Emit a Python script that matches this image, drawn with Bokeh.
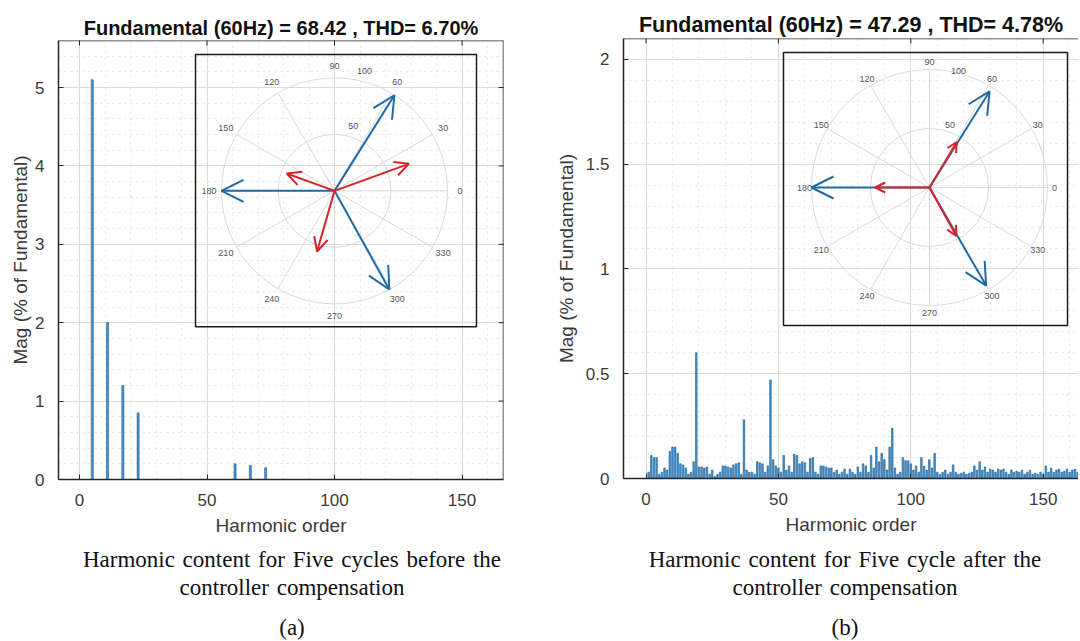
import numpy as np
from bokeh.plotting import figure
from bokeh.models import Range1d, FixedTicker, Arrow, OpenHead, ColumnDataSource, Div, Span
from bokeh.layouts import row, column
from bokeh.embed import file_html
from bokeh.resources import INLINE
from bokeh.core.properties import value

# ---------------- data ----------------
before_order = [5, 11, 17, 23, 61, 67, 73]
before_mag = [5.10, 2.00, 1.20, 0.85, 0.20, 0.18, 0.15]

after_order = list(range(0, 166))
after_mag = [
    0.00, 0.03, 0.11, 0.10, 0.10, 0.02, 0.03, 0.05, 0.04, 0.13,
    0.15, 0.15, 0.12, 0.07, 0.065, 0.05, 0.02, 0.03, 0.08, 0.60,
    0.055, 0.055, 0.05, 0.055, 0.02, 0.04, 0.01, 0.02, 0.03, 0.06,
    0.06, 0.055, 0.05, 0.065, 0.07, 0.075, 0.02, 0.28, 0.04, 0.03,
    0.03, 0.02, 0.08, 0.075, 0.07, 0.03, 0.06, 0.47, 0.09, 0.06,
    0.05, 0.03, 0.11, 0.04, 0.06, 0.03, 0.115, 0.11, 0.07, 0.08,
    0.075, 0.03, 0.095, 0.10, 0.03, 0.02, 0.06, 0.06, 0.055, 0.05,
    0.05, 0.03, 0.04, 0.02, 0.03, 0.045, 0.02, 0.045, 0.03, 0.02,
    0.055, 0.03, 0.07, 0.06, 0.03, 0.11, 0.05, 0.15, 0.08, 0.12,
    0.09, 0.04, 0.15, 0.24, 0.05, 0.02, 0.03, 0.10, 0.085, 0.085,
    0.07, 0.04, 0.06, 0.03, 0.10, 0.06, 0.04, 0.09, 0.05, 0.12,
    0.03, 0.02, 0.03, 0.04, 0.02, 0.03, 0.065, 0.03, 0.02, 0.025,
    0.03, 0.02, 0.025, 0.03, 0.06, 0.04, 0.08, 0.04, 0.055, 0.03,
    0.045, 0.04, 0.03, 0.045, 0.04, 0.045, 0.03, 0.02, 0.04, 0.03,
    0.035, 0.03, 0.04, 0.02, 0.03, 0.04, 0.02, 0.025, 0.02, 0.03,
    0.02, 0.06, 0.03, 0.05, 0.03, 0.04, 0.045, 0.03, 0.035, 0.045,
    0.03, 0.04, 0.045, 0.03, 0.04, 0.03,
]

x_ticks = [0, 50, 100, 150]
before_y_ticks = [0, 1, 2, 3, 4, 5]
after_y_ticks = [0, 0.5, 1, 1.5, 2]
before_y_max = 5.6
after_y_max = 2.1

before_title = "Fundamental (60Hz) = 68.42 , THD= 6.70%"
after_title = "Fundamental (60Hz) = 47.29 , THD= 4.78%"
x_label = "Harmonic order"
y_label = "Mag (% of Fundamental)"
before_caption = ["Harmonic content for Five cycles before the", "controller compensation", "(a)"]
after_caption = ["Harmonic content for Five cycle after the", "controller compensation", "(b)"]

# polar (compass) insets
polar_angles = [0, 30, 60, 90, 120, 150, 180, 210, 240, 270, 300, 330]
polar_rings = [50, 100]
polar_ring_labels = ["50", "100"]

before_blue_mag = [100, 100, 100]
before_blue_ang = [58, 180, 299]
before_red_mag = [70, 45, 56]
before_red_ang = [20, 160, 254]

after_blue_mag = [96, 100, 96]
after_blue_ang = [58, 180, 300]
after_red_mag = [45, 46, 47]
after_red_ang = [59, 180, 299]

# ---------------- styling / layout ----------------
BLUE = "#1f6aa5"
RED = "#d8232a"
AX = "#262626"
LEFT_W = 525
TOTAL_W = 1078
FIG_H = 538

GEOM = {
    "a": dict(fig_left=0, fig_w=LEFT_W, frame=(58, 503, 40, 480), x0_px=79.0, x_ppu=2.55,
              polar_c=(334.0, 190.7), polar_k=1.13, box=(195, 476, 54, 327), lab_r=111,
              ring_lab=[(60, 74), (110, 76)], heads=(22, 14), title_size="20px",
              cap_center=292, right_border=True, bar_w=0.8, ylab_standoff=1),
    "b": dict(fig_left=LEFT_W, fig_w=TOTAL_W - LEFT_W, frame=(623, 1078, 38, 478), x0_px=645.5,
              x_ppu=2.648, polar_c=(929.0, 187.0), polar_k=1.18, box=(783, 1067, 52, 325), lab_r=106,
              ring_lab=[(56, 72), (102, 76)], heads=(22, 10), title_size="21.5px",
              cap_center=845, right_border=False, bar_w=0.6, ylab_standoff=6),
}


def build_panel(g, order, mag, y_ticks, y_max, y_minor_step, title,
                blue_mag, blue_ang, red_mag, red_ang):
    fl, fr, ft, fb = g["frame"]
    bl = fl - g["fig_left"]
    br = g["fig_left"] + g["fig_w"] - fr
    bt = ft
    bb = FIG_H - fb
    x_start = (fl - g["x0_px"]) / g["x_ppu"]
    x_end = (fr - g["x0_px"]) / g["x_ppu"]

    cx, cy = g["polar_c"]
    k = g["polar_k"]
    p = figure(width=g["fig_w"], height=FIG_H, output_backend="svg", toolbar_location=None,
               x_range=Range1d(x_start, x_end), y_range=Range1d(0, y_max),
               min_border_left=bl, min_border_right=br, min_border_top=bt, min_border_bottom=bb,
               background_fill_color="white", border_fill_color="white")
    p.outline_line_color = None
    p.extra_x_ranges = {"px": Range1d((fl - cx) / k, (fr - cx) / k)}
    p.extra_y_ranges = {"py": Range1d((cy - fb) / k, (cy - ft) / k)}

    # title
    p.title.text = title
    p.title.text_font = "Liberation Sans"
    p.title.text_font_size = g["title_size"]
    p.title.text_font_style = "bold"
    p.title.text_color = "#111111"
    p.title.align = "center"
    p.title.standoff = 4

    # tickers and grids
    xt = FixedTicker(ticks=x_ticks, minor_ticks=[float(v) for v in np.arange(-10, 171, 10)])
    yt = FixedTicker(ticks=y_ticks,
                     minor_ticks=[round(float(v), 3) for v in np.arange(0, y_max + 1e-9, y_minor_step)])
    p.xaxis.ticker = xt
    p.yaxis.ticker = yt
    p.xgrid.ticker = xt
    p.ygrid.ticker = yt
    for gr in (p.xgrid, p.ygrid):
        gr.grid_line_color = "#dcdcdc"
        gr.grid_line_width = 1
        gr.minor_grid_line_color = "#e6e6e6"
        gr.minor_grid_line_dash = "dotted"

    for ax in (p.xaxis, p.yaxis):
        ax.axis_line_color = AX
        ax.axis_line_width = 1.5
        ax.major_tick_in = 5
        ax.major_tick_out = 0
        ax.major_tick_line_color = AX
        ax.minor_tick_line_color = None
        ax.major_label_text_font = "Liberation Sans"
        ax.major_label_text_font_size = "17px"
        ax.major_label_text_color = "#3a3a3a"
        ax.axis_label_text_font = "Liberation Sans"
        ax.axis_label_text_font_size = "19px"
        ax.axis_label_text_font_style = "normal"
        ax.axis_label_text_color = "#3a3a3a"
    p.xaxis.axis_label = x_label
    p.yaxis.axis_label = y_label
    p.xaxis.major_label_standoff = 10
    p.xaxis.axis_label_standoff = 6
    p.yaxis.major_label_standoff = 10
    p.yaxis.axis_label_standoff = g["ylab_standoff"]

    # box: top (and right) borders with inward ticks
    p.add_layout(Span(location=y_max, dimension="width", line_color=AX, line_width=1.5))
    p.scatter(x=x_ticks, y=[y_max] * len(x_ticks), marker="dash", size=10, angle=np.pi / 2,
              line_color=AX, line_width=1)
    if g["right_border"]:
        p.add_layout(Span(location=x_end, dimension="height", line_color=AX, line_width=1.5))
        p.scatter(x=[x_end] * len(y_ticks), y=y_ticks, marker="dash", size=10,
                  line_color=AX, line_width=1)

    # harmonic bars
    p.vbar(x=order, top=mag, bottom=0, width=g["bar_w"], fill_color="#4694d2",
           line_color="#1d5d91", line_width=0.6)

    # ---- compass inset ----
    P = dict(x_range_name="px", y_range_name="py")
    rmax = max(polar_rings)
    ang = np.deg2rad(polar_angles)
    p.circle(x=[0] * len(polar_rings), y=[0] * len(polar_rings), radius=polar_rings,
             fill_color=None, line_color="#dadada", line_width=1, **P)
    p.multi_line(xs=[[0, rmax * np.cos(a)] for a in ang], ys=[[0, rmax * np.sin(a)] for a in ang],
                 line_color="#dadada", line_width=1, **P)
    lr = g["lab_r"]
    p.text(x=list(lr * np.cos(ang)), y=list(lr * np.sin(ang)), text=[str(a) for a in polar_angles],
           text_font=value("Liberation Sans"), text_font_size="9px", text_color="#555555",
           text_align="center", text_baseline="middle", **P)
    rl = g["ring_lab"]
    p.text(x=[r * np.cos(np.deg2rad(a)) for r, a in rl], y=[r * np.sin(np.deg2rad(a)) for r, a in rl],
           text=polar_ring_labels, text_font=value("Liberation Sans"), text_font_size="9px",
           text_color="#555555", text_align="center", text_baseline="middle", **P)
    bx0, bx1, by0, by1 = g["box"]
    p.quad(left=[(bx0 - cx) / k], right=[(bx1 - cx) / k], top=[(cy - by0) / k], bottom=[(cy - by1) / k],
           fill_color=None, line_color="#1a1a1a", line_width=1.5, **P)

    hb, hr = g["heads"]
    for mags, angs, col, hs in ((blue_mag, blue_ang, BLUE, hb), (red_mag, red_ang, RED, hr)):
        a = np.deg2rad(angs)
        src = ColumnDataSource(dict(x0=[0.0] * len(mags), y0=[0.0] * len(mags),
                                    x1=list(np.array(mags) * np.cos(a)),
                                    y1=list(np.array(mags) * np.sin(a))))
        p.add_layout(Arrow(end=OpenHead(size=hs, line_color=col, line_width=2),
                           x_start="x0", y_start="y0", x_end="x1", y_end="y1", source=src,
                           line_color=col, line_width=2, **P))
    return p


def caption_div(lines, g):
    width = g["fig_w"]
    # centre of the caption block in page coordinates
    half = min(g["cap_center"] - g["fig_left"], g["fig_left"] + width - g["cap_center"])
    pad_left = g["cap_center"] - g["fig_left"] - half
    html = ('<div style="display:block;box-sizing:border-box;width:%dpx;margin-left:%dpx;'
            'font-family:\'Liberation Serif\',serif;font-size:23px;line-height:28px;word-spacing:2px;'
            'color:#111111;text-align:center;padding-top:8px;white-space:nowrap;">'
            '%s<br>%s<div style="margin-top:14px;line-height:24px;">%s</div></div>'
            % (2 * half, pad_left, lines[0], lines[1], lines[2]))
    return Div(text=html, width=width, height=641 - FIG_H - 1, margin=(0, 0, 0, 0))


pa = build_panel(GEOM["a"], before_order, before_mag, before_y_ticks, before_y_max, 0.2,
                 before_title, before_blue_mag, before_blue_ang, before_red_mag, before_red_ang)
pb = build_panel(GEOM["b"], after_order, after_mag, after_y_ticks, after_y_max, 0.1,
                 after_title, after_blue_mag, after_blue_ang, after_red_mag, after_red_ang)

da = caption_div(before_caption, GEOM["a"])
db = caption_div(after_caption, GEOM["b"])

layout = row(column(pa, da), column(pb, db))
open("out.html", "w").write(file_html(layout, INLINE, title="Harmonic content"))
